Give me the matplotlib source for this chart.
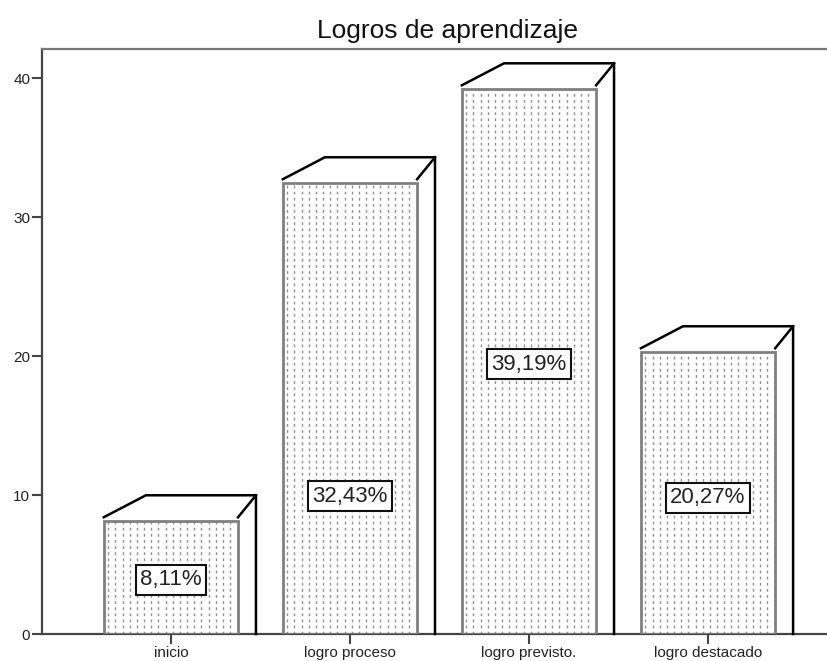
import numpy as np
import matplotlib
matplotlib.use("Agg")
import matplotlib.pyplot as plt
from matplotlib.patches import Rectangle

categories = ['inicio', 'logro proceso', 'logro previsto.', 'logro destacado']
values = [8.11, 32.43, 39.19, 20.27]
pct_labels = ['8,11%', '32,43%', '39,19%', '20,27%']
label_y = [3.9, 9.9, 19.4, 9.8]
yticks = [0, 10, 20, 30, 40]

plt.rcParams['font.family'] = ['Liberation Sans', 'DejaVu Sans']

fig = plt.figure(figsize=(8.28, 6.61), dpi=100)
ax = fig.add_axes([42/828, 27/661, 1 - 42/828, (634-49)/661])

x = np.arange(len(categories))
width = 0.75
dxl, dxr, dy, gap = 0.235, 0.10, 1.58, 0.29
hatch_step = 0.04

for xi, v in zip(x, values):
    left, right = xi - width/2, xi + width/2
    # dotted vertical pattern
    hx = np.arange(left + 0.025, right - 0.01, hatch_step)
    ax.vlines(hx, 0, v, colors='#8f8f8f', linewidth=1.0,
              linestyles=(0, (2.0, 2.4)), zorder=2)
    ax.add_patch(Rectangle((left, 0), width, v, facecolor='none',
                           edgecolor='#808080', linewidth=2.0, zorder=3))
    t = v + gap
    ax.plot([left, left + dxl, right + dxr, right + dxr],
            [t, t + dy, t + dy, 0], color='black', lw=1.8,
            solid_joinstyle='miter', zorder=4, clip_on=False)
    ax.plot([right, right + dxr], [t, t + dy], color='black', lw=1.8, zorder=4,
            clip_on=False)

for xi, ly, lab in zip(x, label_y, pct_labels):
    ax.text(xi, ly, lab, ha='center', va='center', fontsize=16, color='#222222',
            bbox=dict(boxstyle='square,pad=0.2', facecolor='white',
                      edgecolor='#111111', linewidth=1.5), zorder=5)

ax.set_xlim(-0.72, 3.67)
ax.set_ylim(0, 42.09)
ax.set_xticks(x)
ax.set_xticklabels(categories, fontsize=11)
ax.set_yticks(yticks)
ax.set_yticklabels([str(t) for t in yticks], fontsize=11)
ax.tick_params(axis='both', length=7, width=1.5, color='#444444', pad=1.5,
               labelcolor='#222222')
ax.spines['right'].set_visible(False)
for s in ['left', 'bottom']:
    ax.spines[s].set_color('#444444')
    ax.spines[s].set_linewidth(1.6)
ax.spines['top'].set_color('#777777')
ax.spines['top'].set_linewidth(1.6)

fig.text(448/828, 1 - 31/661, 'Logros de aprendizaje', ha='center', va='center',
         fontsize=19, color='#111111')

fig.savefig('out.png', dpi=100)
